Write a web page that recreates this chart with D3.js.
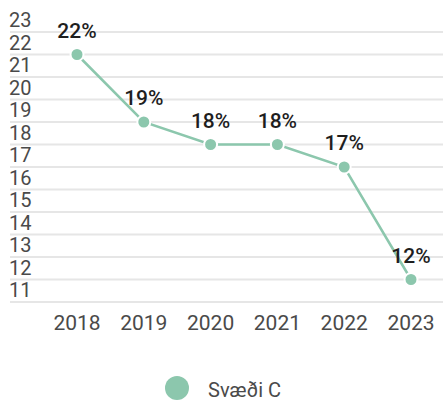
<!DOCTYPE html>
<html>
<head>
<meta charset="utf-8">
<script src="https://cdn.jsdelivr.net/npm/d3@7"></script>
<style>
  body { margin: 0; background: #fff; }
  svg text { font-family: Roboto, "Noto Sans", sans-serif; }
</style>
</head>
<body>
<div id="chart"></div>
<script>
// data
const years = ["2018", "2019", "2020", "2021", "2022", "2023"];
const values = [22, 19, 18, 18, 17, 12];
const valueLabels = ["22%", "19%", "18%", "18%", "17%", "12%"];
const yTicks = [11, 12, 13, 14, 15, 16, 17, 18, 19, 20, 21, 22, 23];
const seriesName = "Svæði C";

const width = 446, height = 405;
const color = "#8cc7ad";

let svg = d3.select("#chart").append("svg")
    .attr("width", width)
    .attr("height", height);

let x = d3.scalePoint().domain(years).range([77, 411]);
let y = d3.scaleLinear().domain([11, 23]).range([302, 32]);

// gridlines
svg.append("g").selectAll("line")
    .data(yTicks)
    .enter().append("line")
    .attr("x1", 10)
    .attr("x2", 443)
    .attr("y1", d => y(d))
    .attr("y2", d => y(d))
    .style("stroke", "#e6e6e6")
    .style("stroke-width", 2);

// y labels sit above their gridline
svg.append("g").selectAll("text")
    .data(yTicks)
    .enter().append("text")
    .attr("x", 9)
    .attr("y", d => y(d) - 5)
    .style("font-size", "20px")
    .style("fill", "#4a4a4a")
    .text(d => d);

// x labels
svg.append("g").selectAll("text")
    .data(years)
    .enter().append("text")
    .attr("x", d => x(d))
    .attr("y", 330)
    .attr("text-anchor", "middle")
    .style("font-size", "21px")
    .style("fill", "#4a4a4a")
    .text(d => d);

let points = years.map((yr, i) => ({ year: yr, value: values[i], label: valueLabels[i] }));

let line = d3.line()
    .x(d => x(d.year))
    .y(d => y(d.value));

svg.append("path")
    .datum(points)
    .attr("d", line)
    .style("fill", "none")
    .style("stroke", color)
    .style("stroke-width", 2.5);

svg.append("g").selectAll("circle")
    .data(points)
    .enter().append("circle")
    .attr("cx", d => x(d.year))
    .attr("cy", d => y(d.value))
    .attr("r", 6.5)
    .style("fill", color)
    .style("stroke", "#fff")
    .style("stroke-width", 2);

svg.append("g").selectAll("text")
    .data(points)
    .enter().append("text")
    .attr("x", d => x(d.year))
    .attr("y", d => y(d.value) - 17)
    .attr("text-anchor", "middle")
    .style("font-size", "21px")
    .style("font-weight", 500)
    .style("fill", "#1e1e1e")
    .text(d => d.label);

// legend
let legend = svg.append("g").attr("transform", "translate(177,388)");
legend.append("circle")
    .attr("r", 12)
    .style("fill", color);
legend.append("text")
    .attr("x", 31)
    .attr("y", 9)
    .style("font-size", "20px")
    .style("fill", "#4a4a4a")
    .text(seriesName);
</script>
</body>
</html>
